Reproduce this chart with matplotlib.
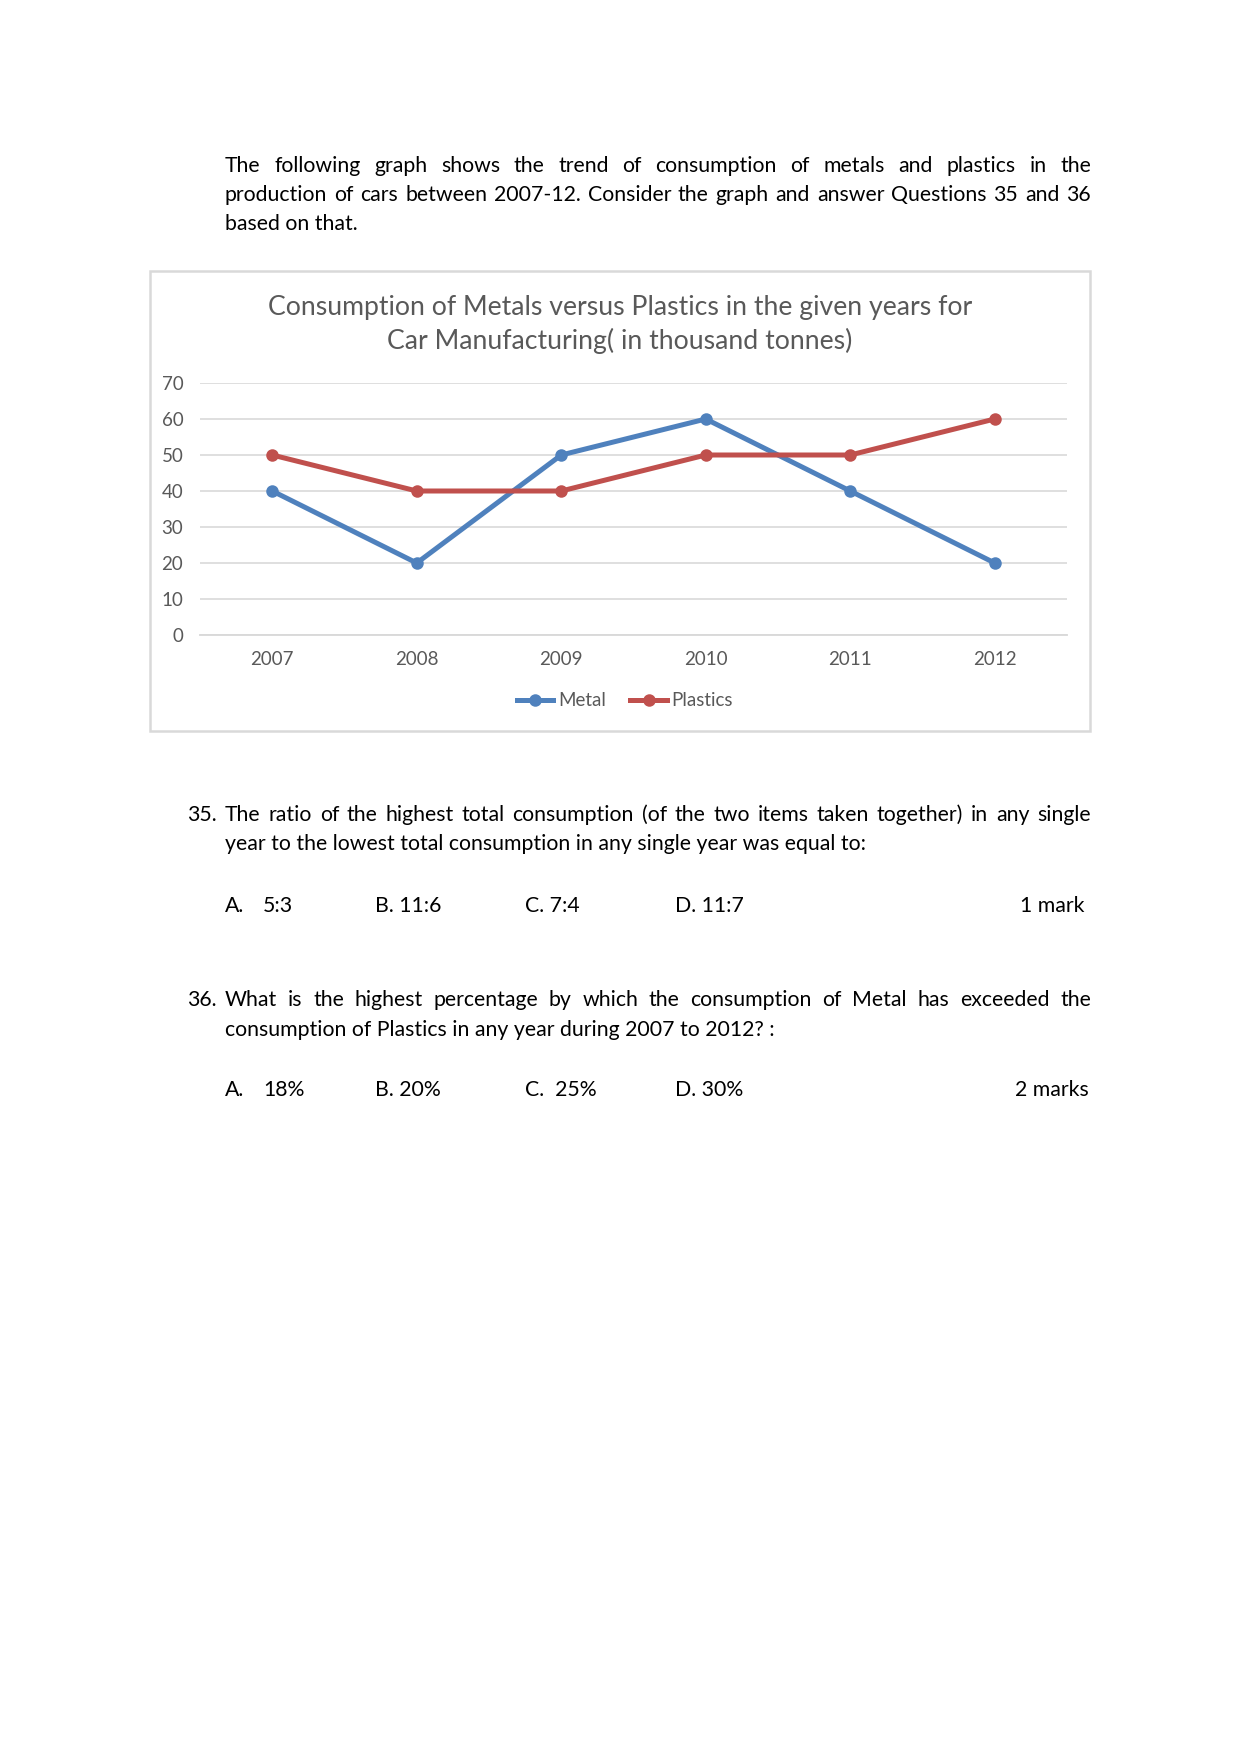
import matplotlib
matplotlib.use("Agg")
import matplotlib.pyplot as plt
from matplotlib.patches import Rectangle

plt.rcParams['font.family'] = ['Lato', 'DejaVu Sans']

# data
years = ['2007', '2008', '2009', '2010', '2011', '2012']
metal = [40, 20, 50, 60, 40, 20]
plastics = [50, 40, 40, 50, 50, 60]
y_ticks = [0, 10, 20, 30, 40, 50, 60, 70]

intro_lines = [
    "The following graph shows the trend of consumption of metals and plastics in the",
    "production of cars between 2007-12. Consider the graph and answer Questions 35 and 36",
    "based on that.",
]
q35_lines = [
    "The ratio of the highest total consumption (of the two items taken together) in any single",
    "year to the lowest total consumption in any single year was equal to:",
]
q35_opts = [("A.", "5:3"), ("B. 11:6", None), ("C. 7:4", None), ("D. 11:7", None)]
q36_lines = [
    "What is the highest percentage by which the consumption of Metal has exceeded the",
    "consumption of Plastics in any year during 2007 to 2012? :",
]
q36_opts = [("A.", "18%"), ("B. 20%", None), ("C.  25%", None), ("D. 30%", None)]

W, H = 1241, 1754
BLUE = '#4F81BD'
RED = '#C0504D'
GREY = '#595959'
GRID = '#D9D9D9'
TXT = 10.2

fig = plt.figure(figsize=(W / 150, H / 150), dpi=150)
renderer = fig.canvas.get_renderer()


def fx(x):
    return x / W


def fy(y):
    return 1 - y / H


def put(x, y, s, **kw):
    kw.setdefault('fontsize', TXT)
    kw.setdefault('va', 'baseline')
    return fig.text(fx(x), fy(y), s, **kw)


def justified(x0, x1, y, line):
    # spread the words so the line fills x0..x1
    words = line.split(' ')
    arts = [put(x0, y, w) for w in words]
    widths = [a.get_window_extent(renderer).width for a in arts]
    gap = (x1 - x0 - sum(widths)) / (len(words) - 1)
    x = x0
    for a, w in zip(arts, widths):
        a.set_x(fx(x))
        x += w + gap


# intro paragraph
justified(225, 1091, 172, intro_lines[0])
justified(225, 1091, 201, intro_lines[1])
put(225, 230, intro_lines[2])

# chart frame
fig.patches.append(Rectangle((fx(150), fy(731)), fx(1090) - fx(150), fy(271) - fy(731),
                             transform=fig.transFigure, fill=False, edgecolor=GRID, linewidth=1.2))

fig.text(fx(620), fy(307), "Consumption of Metals versus Plastics in the given years for",
         ha='center', va='center', fontsize=12.8, color=GREY)
fig.text(fx(620), fy(341), "Car Manufacturing( in thousand tonnes)",
         ha='center', va='center', fontsize=12.8, color=GREY)

ax = fig.add_axes([fx(200), fy(635), fx(1067) - fx(200), fy(383) - fy(635)])
x = list(range(len(years)))
ax.plot(x, metal, color=BLUE, linewidth=2.4, marker='o', markersize=5, label='Metal')
ax.plot(x, plastics, color=RED, linewidth=2.4, marker='o', markersize=5, label='Plastics')
ax.set_xlim(-0.5, len(years) - 0.5)
ax.set_ylim(0, 70)
ax.set_yticks(y_ticks)
ax.set_xticks(x)
ax.set_xticklabels(years)
ax.grid(axis='y', color=GRID, linewidth=0.8)
ax.set_axisbelow(True)
for side in ['top', 'right', 'left']:
    ax.spines[side].set_visible(False)
ax.spines['bottom'].set_color(GRID)
ax.spines['bottom'].set_linewidth(0.9)
ax.tick_params(axis='both', length=0, labelsize=9, labelcolor=GREY)
ax.tick_params(axis='y', pad=8)
ax.tick_params(axis='x', pad=7.5)
ax.patch.set_alpha(0)

fig.legend(loc='center', bbox_to_anchor=(fx(625), fy(701)), ncol=2, frameon=False,
           fontsize=9, labelcolor=GREY, handlelength=1.95, handletextpad=0.25,
           columnspacing=1.3)

# question 35
put(187, 821, "35.")
justified(225, 1091, 821, q35_lines[0])
put(225, 850, q35_lines[1])
opt_x = [225, 375, 525, 675]
for (a, b), xx in zip(q35_opts, opt_x):
    put(xx, 912, a)
    if b:
        put(263, 912, b)
put(1085, 912, "1 mark", ha='right')

# question 36
put(187, 1006, "36.")
justified(225, 1091, 1006, q36_lines[0])
put(225, 1036, q36_lines[1])
for (a, b), xx in zip(q36_opts, opt_x):
    put(xx, 1096, a)
    if b:
        put(263, 1096, b)
put(1089, 1096, "2 marks", ha='right')

fig.savefig("out.png", dpi=150)
